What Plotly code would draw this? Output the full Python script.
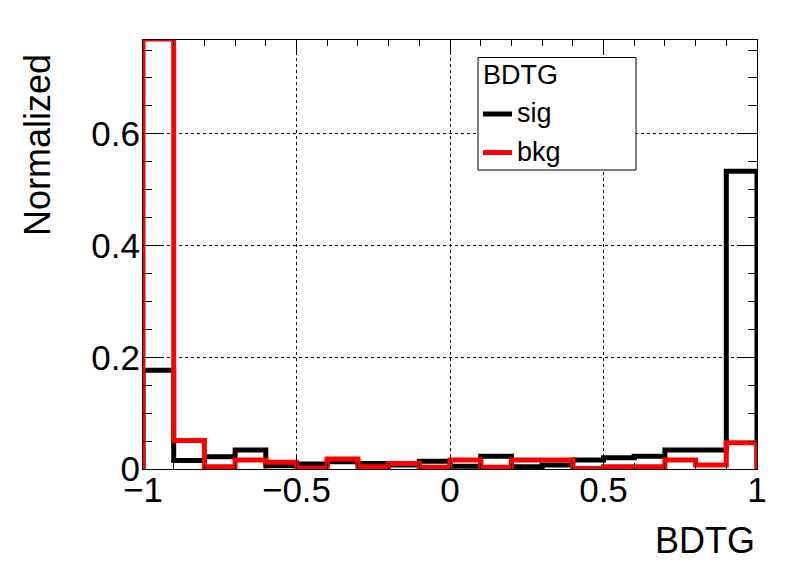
import plotly.graph_objects as go

bin_edges = [-1.0, -0.9, -0.8, -0.7, -0.6, -0.5, -0.4, -0.3, -0.2, -0.1, 0.0,
             0.1, 0.2, 0.3, 0.4, 0.5, 0.6, 0.7, 0.8, 0.9, 1.0]
sig_values = [0.177, 0.015, 0.022, 0.034, 0.006, 0.009, 0.013, 0.010, 0.007, 0.014,
              0.005, 0.023, 0.004, 0.007, 0.016, 0.020, 0.023, 0.034, 0.034, 0.533]
bkg_values = [0.770, 0.051, 0.004, 0.016, 0.012, 0.002, 0.018, 0.004, 0.010, 0.003,
              0.016, 0.003, 0.016, 0.016, 0.001, 0.004, 0.004, 0.016, 0.007, 0.047]
x_tick_vals = [-1, -0.5, 0, 0.5, 1]
x_tick_text = ["\u22121", "\u22120.5", "0", "0.5", "1"]
y_tick_vals = [0, 0.2, 0.4, 0.6]
y_tick_text = ["0", "0.2", "0.4", "0.6"]
series_names = ["sig", "bkg"]
series_colors = ["black", "red"]
legend_title = "BDTG"
x_title = "BDTG"
y_title = "Normalized"

FONT = "Liberation Sans, Arial, sans-serif"

# plot area in page pixels (page body has an 8px margin)
PL, PR, PT, PB = 143, 757, 40, 469
OFF = 8
FIG_W, FIG_H = 780, 556


def px_x(p):
    return (p - PL) / (PR - PL)


def px_y(p):
    return (PB - p) / (PB - PT)


def step_xy(edges, vals):
    xs = [edges[0]] + list(edges) + [edges[-1]]
    ys = [0] + list(vals) + [vals[-1], 0]
    return xs, ys


fig = go.Figure()
for name, vals, col in zip(series_names, [sig_values, bkg_values], series_colors):
    xs, ys = step_xy(bin_edges, vals)
    fig.add_trace(go.Scatter(x=xs, y=ys, mode="lines", name=name,
                             line=dict(color=col, width=5, shape="hv"),
                             cliponaxis=True, showlegend=False))

axis_common = dict(showline=True, linecolor="black", linewidth=1, mirror="allticks",
                   ticks="inside", tickcolor="black", tickwidth=1,
                   showgrid=True, gridcolor="black", griddash="dot", gridwidth=1,
                   zeroline=False,
                   tickfont=dict(family=FONT, size=35, color="black"))

shapes = [
    dict(type="rect", xref="paper", yref="paper",
         x0=px_x(478), x1=px_x(636), y0=px_y(170), y1=px_y(57.5),
         line=dict(color="black", width=1), fillcolor="white", layer="above"),
]
annotations = [
    dict(text=y_title, xref="paper", yref="paper", x=px_x(37), y=px_y(145),
         xanchor="center", yanchor="middle", textangle=-90, showarrow=False,
         font=dict(family=FONT, size=36, color="black")),
    dict(text=x_title, xref="paper", yref="paper", x=1.0, y=px_y(563),
         xanchor="right", yanchor="bottom", showarrow=False,
         font=dict(family=FONT, size=36, color="black")),
    dict(text=legend_title, xref="paper", yref="paper", x=px_x(481), y=px_y(75),
         xanchor="left", yanchor="middle", showarrow=False,
         font=dict(family=FONT, size=27, color="black")),
]
for i, (name, col) in enumerate(zip(series_names, series_colors)):
    ly = [114, 152.5][i]
    shapes.append(dict(type="line", xref="paper", yref="paper",
                       x0=px_x(483), x1=px_x(512), y0=px_y(ly), y1=px_y(ly),
                       line=dict(color=col, width=5), layer="above"))
    annotations.append(dict(text=name, xref="paper", yref="paper", x=px_x(515), y=px_y(ly - 1),
                            xanchor="left", yanchor="middle", showarrow=False,
                            font=dict(family=FONT, size=27, color="black")))

fig.update_layout(
    width=FIG_W, height=FIG_H,
    margin=dict(l=PL - OFF, r=FIG_W - (PR - OFF), t=PT - OFF, b=FIG_H - (PB - OFF), pad=0),
    paper_bgcolor="white", plot_bgcolor="white",
    xaxis=dict(range=[-1, 1], tickvals=x_tick_vals, ticktext=x_tick_text, ticklen=13,
               ticklabelstandoff=-10,
               minor=dict(dtick=0.1, tick0=-1, ticks="inside", ticklen=6, tickcolor="black", showgrid=False),
               **axis_common),
    yaxis=dict(range=[0, 0.768], tickvals=y_tick_vals, ticktext=y_tick_text, ticklen=18,
               ticklabelstandoff=-5,
               minor=dict(dtick=0.05, tick0=0, ticks="inside", ticklen=9, tickcolor="black", showgrid=False),
               **axis_common),
    showlegend=False,
    shapes=shapes,
    annotations=annotations,
)

fig.write_html("out.html")
